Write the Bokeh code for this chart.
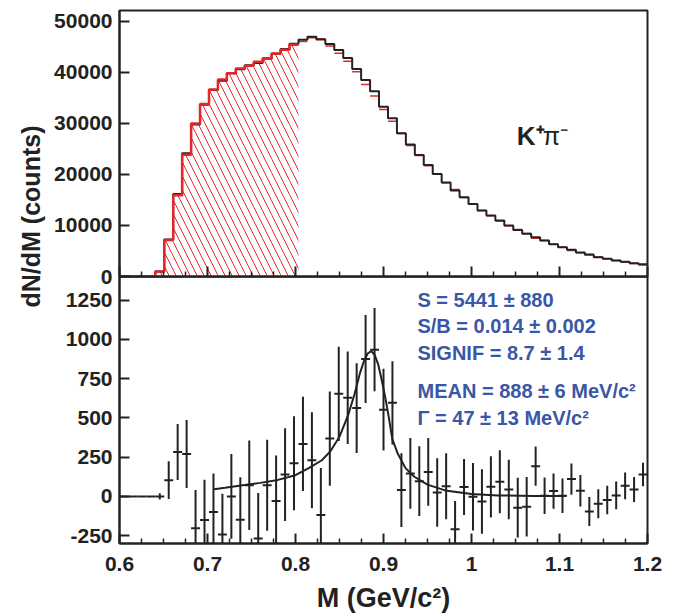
from math import pi
from bokeh.plotting import figure
from bokeh.layouts import row, column
from bokeh.models import Range1d, FixedTicker, Label, CustomJSTickFormatter, CustomLabelingPolicy
from bokeh.embed import file_html
from bokeh.resources import INLINE

# ---------------- data ----------------
m_lo, m_hi = 0.6, 1.2

# same-event K+pi- invariant mass spectrum (black histogram), counts per bin
same_event = [0, 0, 0, 0, 1000, 7240, 16180, 24140, 29750, 33660,
              36530, 38360, 39790, 40570, 41360, 41810, 42730, 43640, 44550, 45600,
              46380, 46970, 46440, 45530, 44360, 42790, 40640, 38490, 36270, 33270,
              31000, 28050, 25830, 23810, 21850, 20090, 18400, 16830, 15530, 14220,
              12920, 11940, 10960, 9980, 9130, 8350, 7700, 7050, 6330, 5740,
              5220, 4700, 4240, 3780, 3460, 3130, 2870, 2610, 2410]

# mixed-event background (red histogram), counts per bin
mixed_event = [0, 0, 0, 0, 1000, 7140, 15900, 23870, 29950, 33810,
               36630, 38600, 39790, 40720, 41290, 42080, 42660, 43670, 44410, 45390,
               46050, 46740, 46560, 45160, 43710, 42160, 40080, 37620, 35340, 32720,
               30400, 28010, 25680, 23710, 21690, 20070, 18340, 17040, 15470, 14220,
               12950, 11880, 10870, 9940, 9200, 8420, 7510, 7050, 6300, 5740,
               5110, 4660, 4340, 3830, 3480, 3130, 2800, 2570, 2270]

# background-subtracted signal (bottom panel) and its error
signal = [0, 0, 0, 0, 0, 103, 283, 270, -203, -150,
          -100, -243, 0, -148, 71, -268, 71, -30, 139, 211,
          334, 230, -119, 368, 653, 628, 562, 875, 934, 552,
          596, 40, 146, 97, 156, 25, 65, -210, 60, -3,
          -33, 61, 93, 44, -72, -66, 192, 4, 34, 4,
          110, 36, -96, -47, -23, 6, 67, 44, 139]
signal_err = [0, 0, 0, 0, 20, 120, 178, 217, 243, 256,
              245, 260, 270, 270, 285, 290, 290, 290, 295, 300,
              300, 305, 300, 300, 300, 295, 285, 280, 265, 260,
              265, 235, 225, 222, 215, 218, 210, 180, 178, 215,
              205, 195, 200, 190, 190, 190, 125, 116, 112, 110,
              100, 100, 92, 92, 90, 88, 85, 80, 75]

# fit curve (Breit-Wigner + residual background)
fit_m = [0.7075, 0.72, 0.74, 0.76, 0.78, 0.80, 0.815, 0.83, 0.84, 0.85,
         0.86, 0.867, 0.873, 0.878, 0.882, 0.886, 0.89, 0.894, 0.898, 0.902,
         0.906, 0.91, 0.916, 0.925, 0.935, 0.95, 0.97, 1.0, 1.03, 1.07, 1.107]
fit_v = [46, 55, 71, 86, 105, 135, 180, 230, 290, 380,
         520, 650, 780, 865, 910, 925, 900, 840, 740, 630,
         505, 365, 275, 180, 125, 75, 38, 15, 6, 3, 2]

n_hatched = 20  # mixed-event bins drawn hatched (below 0.8)

top_ticks = [0, 10000, 20000, 30000, 40000, 50000]
bot_ticks = [-250, 0, 250, 500, 750, 1000, 1250]
x_ticks = [0.6, 0.7, 0.8, 0.9, 1.0, 1.1, 1.2]
x_minor = [round(0.6 + 0.025 * k, 3) for k in range(25) if k % 4]

stats_lines = ["S = 5441 \u00b1 880", "S/B = 0.014 \u00b1 0.002", "SIGNIF = 8.7 \u00b1 1.4",
               "MEAN = 888 \u00b1 6 MeV/c\u00b2", "\u0393 = 47 \u00b1 13 MeV/c\u00b2"]
stats_y = [1252, 1082, 913, 668, 497]

# ---------------- geometry from binning ----------------
n = len(same_event)
bw = (m_hi - m_lo) / n
edges = [m_lo + i * bw for i in range(n + 1)]
centers = [m_lo + (i + 0.5) * bw for i in range(n)]

INK = "#222222"
RED = "#e3262b"
BLUE = "#3a56a6"
FONT = "Liberation Sans"
OVERLAP = 14


def style(p):
    p.grid.visible = False
    p.outline_line_color = INK
    p.outline_line_width = 2
    for ax in p.axis:
        ax.axis_line_color = INK
        ax.axis_line_width = 2
        ax.major_tick_line_color = INK
        ax.minor_tick_line_color = INK
        ax.major_tick_line_width = 2
        ax.minor_tick_line_width = 1.5
        ax.major_tick_out = 0
        ax.minor_tick_out = 0
        ax.major_label_text_font = FONT
        ax.major_label_text_font_style = "bold"
        ax.major_label_text_font_size = "21px"
        ax.major_label_text_color = INK
    p.xaxis.ticker = FixedTicker(ticks=x_ticks, minor_ticks=x_minor)
    p.xaxis.major_tick_in = 10
    p.xaxis.minor_tick_in = 5
    p.yaxis.major_tick_in = 10
    p.yaxis.minor_tick_in = 0
    p.yaxis.major_label_standoff = 7
    p.yaxis.formatter = CustomJSTickFormatter(code="return tick.toFixed(0)")


xr = Range1d(m_lo, m_hi)

# ---------------- top panel ----------------
p1 = figure(x_range=xr, y_range=Range1d(0, 52100), frame_width=528, frame_height=266,
            min_border_left=71, min_border_right=20, min_border_top=10,
            min_border_bottom=OVERLAP,
            output_backend="svg", toolbar_location=None)
style(p1)
p1.background_fill_color = "white"
p1.border_fill_color = "white"
p1.yaxis.ticker = FixedTicker(ticks=top_ticks, minor_ticks=[])
p1.xaxis.major_label_text_font_size = "0px"
p1.xaxis.major_label_standoff = 0
p1.xaxis.major_label_policy = CustomLabelingPolicy(code="return new Set()")

p1.quad(left=edges[:n_hatched], right=edges[1:n_hatched + 1], bottom=0,
        top=mixed_event[:n_hatched], fill_color=None, line_color=None,
        hatch_pattern="\\", hatch_color=RED, hatch_weight=1, hatch_scale=14)
p1.segment(x0=edges[n_hatched:n], x1=edges[n_hatched + 1:], y0=mixed_event[n_hatched:],
           y1=mixed_event[n_hatched:], line_color=RED, line_width=1.5)
p1.step(x=edges, y=same_event + [same_event[-1]], mode="after", line_color=INK, line_width=2)
p1.step(x=edges[:n_hatched + 1], y=mixed_event[:n_hatched] + [mixed_event[n_hatched - 1]],
        mode="after", line_color=RED, line_width=2.5)
p1.add_layout(Label(x=1.0515, y=27600, text="K\u207a", text_font=FONT,
                    text_font_style="bold", text_font_size="26px", text_color=INK,
                    text_baseline="middle"))
p1.add_layout(Label(x=1.081, y=27600, text="\u03c0\u207b", text_font=FONT,
                    text_font_style="normal", text_font_size="25px", text_color=INK,
                    text_baseline="middle"))

# ---------------- bottom panel ----------------
p2 = figure(x_range=xr, y_range=Range1d(-300, 1400), frame_width=528, frame_height=267,
            min_border_left=71, min_border_right=20, min_border_top=0, min_border_bottom=0,
            output_backend="svg", toolbar_location=None)
style(p2)
p2.background_fill_color = None
p2.border_fill_color = None
p2.margin = (-OVERLAP, 0, 0, 0)
p2.yaxis.ticker = FixedTicker(ticks=bot_ticks, minor_ticks=[])
p2.xaxis.formatter = CustomJSTickFormatter(code="return String(Math.round(tick*10)/10)")
p2.xaxis.major_label_standoff = 13
p2.xaxis.axis_label = "M (GeV/c\u00b2)"
p2.xaxis.axis_label_text_font = FONT
p2.xaxis.axis_label_text_font_style = "bold"
p2.xaxis.axis_label_text_font_size = "27px"
p2.xaxis.axis_label_text_color = INK
p2.xaxis.axis_label_standoff = 9

lo = [s - e for s, e in zip(signal, signal_err)]
hi = [s + e for s, e in zip(signal, signal_err)]
p2.segment(x0=edges[:-1], x1=edges[1:], y0=signal, y1=signal, line_color=INK, line_width=2)
p2.segment(x0=centers, x1=centers, y0=lo, y1=hi, line_color=INK, line_width=2)
p2.line(fit_m, fit_v, line_color=INK, line_width=2)

for txt, yy in zip(stats_lines, stats_y):
    p2.add_layout(Label(x=0.9386, y=yy, text=txt, text_font=FONT, text_font_style="bold",
                        text_font_size="20px", text_color=BLUE, text_baseline="middle"))

# ---------------- shared y-axis title ----------------
lab = figure(x_range=Range1d(0, 48), y_range=Range1d(0, 600), frame_width=48, frame_height=600,
             min_border=0, x_axis_type=None, y_axis_type=None,
             output_backend="svg", toolbar_location=None)
lab.grid.visible = False
lab.outline_line_color = None
lab.add_layout(Label(x=30, y=384, text="dN/dM (counts)", angle=pi / 2, text_font=FONT,
                     text_font_style="bold", text_font_size="25px", text_color=INK,
                     text_align="center", text_baseline="middle"))

layout = row(lab, column(p1, p2))
open("out.html", "w").write(file_html(layout, INLINE))
